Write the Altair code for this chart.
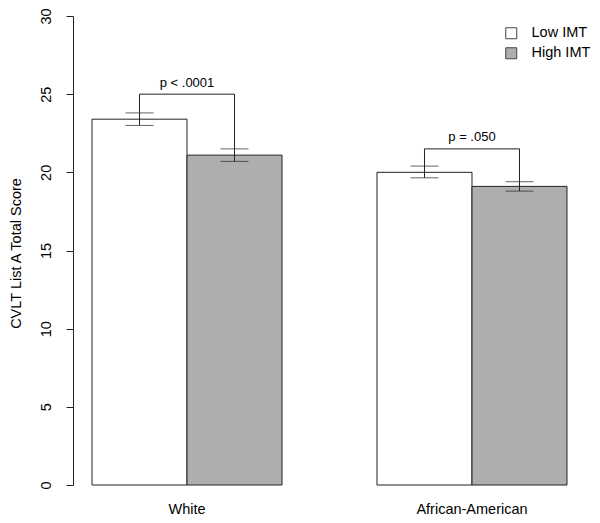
import altair as alt
import pandas as pd

groups = ["White", "African-American"]
levels = ["Low IMT", "High IMT"]
bar_group = ["White", "White", "African-American", "African-American"]
bar_level = ["Low IMT", "High IMT", "Low IMT", "High IMT"]
means = [23.4, 21.1, 20.0, 19.1]
err_lo = [23.0, 20.7, 19.65, 18.8]
err_hi = [23.8, 21.5, 20.4, 19.4]
bracket_y = [25.0, 21.5]
p_labels = ["p < .0001", "p = .050"]
y_ticks = [0, 5, 10, 15, 20, 25, 30]

FONT = "Liberation Sans"
FS = 14.5
INK = "#222222"

bars = pd.DataFrame({"group": bar_group, "level": bar_level, "mean": means,
                     "lo": err_lo, "hi": err_hi})

# bracket paths: err top of low bar -> bracket -> bracket -> err top of high bar
br_rows = []
for gi, g in enumerate(groups):
    hi_low = err_hi[2 * gi]
    hi_high = err_hi[2 * gi + 1]
    br_rows += [
        {"group": g, "level": "Low IMT", "y": hi_low, "o": 0},
        {"group": g, "level": "Low IMT", "y": bracket_y[gi], "o": 1},
        {"group": g, "level": "High IMT", "y": bracket_y[gi], "o": 2},
        {"group": g, "level": "High IMT", "y": hi_high, "o": 3},
    ]
brackets = pd.DataFrame(br_rows)
ptext = pd.DataFrame({"group": groups, "y": bracket_y, "label": p_labels})

xscale = alt.Scale(domain=groups, paddingInner=1 / 3, paddingOuter=0.0667)
yscale = alt.Scale(domain=[0, 30], nice=False, zero=True)
offscale = alt.Scale(domain=levels, paddingInner=0, paddingOuter=0)

x_enc = alt.X("group:N", scale=xscale, sort=groups,
              axis=alt.Axis(title=None, domain=False, ticks=False, tickSize=0,
                            labelAngle=0, labelPadding=28, labelBaseline="alphabetic",
                            labelFont=FONT, labelFontSize=FS, labelColor="black"))
xoff = alt.XOffset("level:N", scale=offscale, sort=levels)

bar_layer = alt.Chart(bars).mark_bar(stroke=INK, strokeWidth=1).encode(
    x=x_enc,
    xOffset=xoff,
    y=alt.Y("mean:Q", scale=yscale,
            axis=alt.Axis(title="CVLT List A Total Score", values=y_ticks, grid=False,
                          domainColor=INK, tickColor=INK, tickSize=7,
                          labelAngle=-90, labelAlign="center", labelBaseline="alphabetic",
                          labelPadding=16, labelFont=FONT, labelFontSize=FS,
                          labelColor="black",
                          titleFont=FONT, titleFontSize=FS, titleFontWeight="normal",
                          titleColor="black", titleAngle=-90, titleAlign="center",
                          titleBaseline="alphabetic", titleX=-53, titleY=237)),
    fill=alt.Fill("level:N", sort=levels,
                  scale=alt.Scale(domain=levels, range=["#ffffff", "#AEAEAE"]),
                  legend=alt.Legend(title=None, orient="none", legendX=431, legendY=10,
                                    symbolType="square", symbolSize=121,
                                    symbolStrokeColor="#444444", symbolStrokeWidth=1,
                                    labelFont=FONT, labelFontSize=FS, labelColor="black",
                                    labelOffset=13, rowPadding=4, padding=0)),
)

err_rule = alt.Chart(bars).mark_rule(color=INK, strokeWidth=1).encode(
    x=alt.X("group:N", scale=xscale, sort=groups),
    xOffset=xoff,
    y=alt.Y("lo:Q", scale=yscale),
    y2="hi:Q",
)
cap_lo = alt.Chart(bars).mark_tick(color=INK, size=28, thickness=1).encode(
    x=alt.X("group:N", scale=xscale, sort=groups),
    xOffset=xoff,
    y=alt.Y("lo:Q", scale=yscale),
)
cap_hi = alt.Chart(bars).mark_tick(color=INK, size=28, thickness=1).encode(
    x=alt.X("group:N", scale=xscale, sort=groups),
    xOffset=xoff,
    y=alt.Y("hi:Q", scale=yscale),
)
br_layer = alt.Chart(brackets).mark_line(color=INK, strokeWidth=1).encode(
    x=alt.X("group:N", scale=xscale, sort=groups),
    xOffset=xoff,
    y=alt.Y("y:Q", scale=yscale),
    order="o:Q",
    detail="group:N",
)
txt_layer = alt.Chart(ptext).mark_text(font=FONT, fontSize=13, color="black",
                                       baseline="alphabetic", dy=-7.5).encode(
    x=alt.X("group:N", scale=xscale, sort=groups),
    y=alt.Y("y:Q", scale=yscale),
    text="label:N",
)

chart = alt.layer(bar_layer, err_rule, cap_lo, cap_hi, br_layer, txt_layer).properties(
    width=513, height=469,
    autosize=alt.AutoSizeParams(type="none"),
    padding={"left": 65, "top": 8, "right": 6, "bottom": 30},
    background="white",
).configure_view(stroke=None)

chart.save("out.html", embed_options={"renderer": "svg", "actions": False})
